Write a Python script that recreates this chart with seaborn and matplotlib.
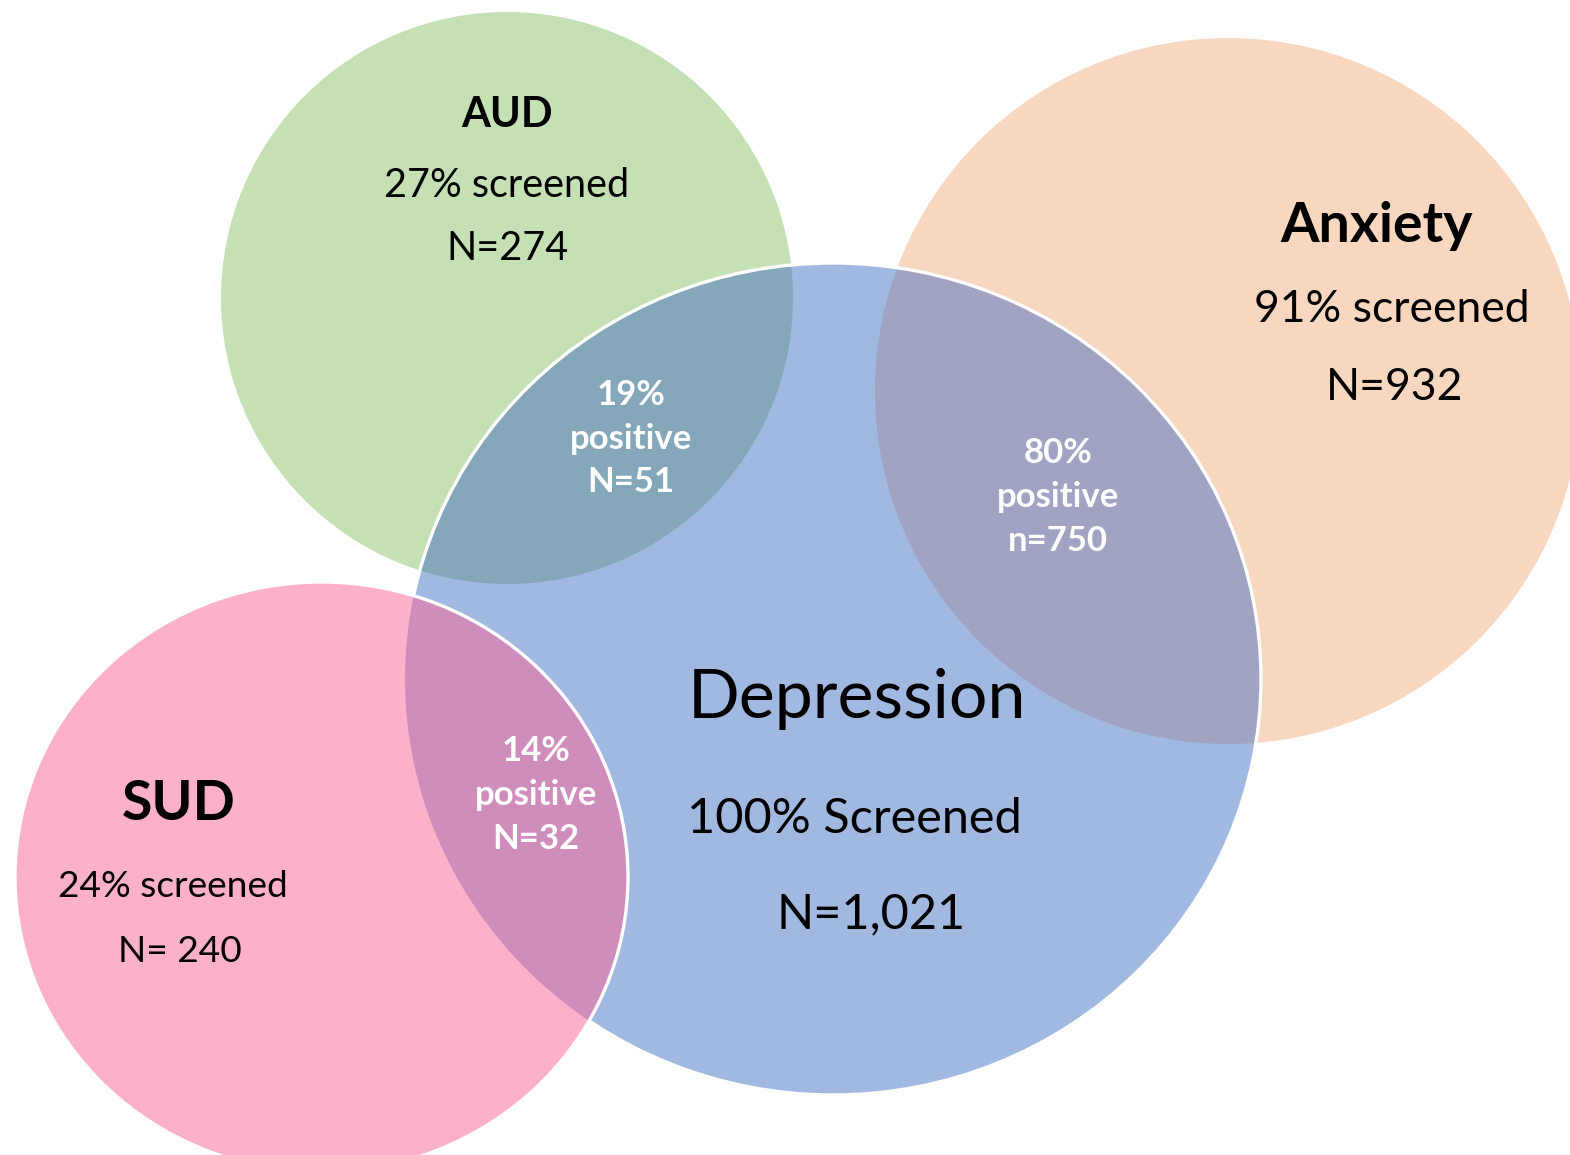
import matplotlib
matplotlib.use("Agg")
import matplotlib.pyplot as plt
from matplotlib.patches import Ellipse
import seaborn as sns

# ---- data -------------------------------------------------------------
groups = ["AUD", "Anxiety", "Depression", "SUD"]
screened_pct = [27, 91, 100, 24]
screened_n = [274, 932, 1021, 240]
screened_word = ["screened", "screened", "Screened", "screened"]
n_prefix = ["N=", "N=", "N=", "N= "]

# overlap of each condition with Depression (AUD, Anxiety, SUD)
overlap_groups = ["AUD", "Anxiety", "SUD"]
positive_pct = [19, 80, 14]
positive_n = [51, 750, 32]
positive_prefix = ["N=", "n=", "N="]

# ---- layout (pixel space, y downwards) --------------------------------
shapes = {
    "AUD":        dict(xy=(507, 298), w=572, h=572, color="#C5E0B4"),
    "Anxiety":    dict(xy=(1228, 391), w=706, h=706, color="#F8D7C1"),
    "Depression": dict(xy=(833, 679), w=856, h=832, color="#A1B8E0"),
    "SUD":        dict(xy=(321.5, 877), w=613, h=590, color="#FDB0CA"),
}
overlap_colors = {"AUD": "#84A7BA", "Anxiety": "#A0A3C2", "SUD": "#CF8DBB"}

title_style = {
    "AUD":        dict(x=507, y=[127, 197, 260], sizes=[30, 28.5, 28.5]),
    "Anxiety":    dict(x=[1377, 1392, 1395], y=[242, 322, 400], sizes=[40, 32, 32]),
    "Depression": dict(x=[857, 854, 871], y=[718, 833, 928], sizes=[49, 35, 35]),
    "SUD":        dict(x=[179, 173, 180], y=[820, 897, 962], sizes=[40, 26.7, 26.7]),
}
overlap_pos = {"AUD": (631, [405, 449, 492]),
               "Anxiety": (1058, [463, 507, 551]),
               "SUD": (536, [761, 805, 849])}

sns.set_theme(style="white")
plt.rcParams["font.family"] = ["Lato", "DejaVu Sans"]

fig = plt.figure(figsize=(15.7, 11.55), dpi=100)
ax = fig.add_axes([0, 0, 1, 1])
ax.set_xlim(0, 1570)
ax.set_ylim(1155, 0)
ax.set_aspect("equal")
ax.axis("off")


def ellipse(name, **kw):
    s = shapes[name]
    return Ellipse(s["xy"], s["w"], s["h"], **kw)


edge_w = 2.4

# base discs
for name in ["AUD", "Anxiety", "Depression"]:
    ax.add_patch(ellipse(name, facecolor=shapes[name]["color"], edgecolor="none", zorder=1))

dep_clip = ellipse("Depression", facecolor="none", edgecolor="none")
ax.add_patch(dep_clip)

# AUD / Anxiety overlaps with Depression
for name in ["AUD", "Anxiety"]:
    p = ellipse(name, facecolor=overlap_colors[name], edgecolor="none", zorder=2)
    ax.add_patch(p)
    p.set_clip_path(dep_clip)

# white outline of Depression
ax.add_patch(ellipse("Depression", facecolor="none", edgecolor="white", lw=edge_w, zorder=3))

# SUD on top
ax.add_patch(ellipse("SUD", facecolor=shapes["SUD"]["color"], edgecolor="none", zorder=4))
p = ellipse("SUD", facecolor=overlap_colors["SUD"], edgecolor="none", zorder=5)
ax.add_patch(p)
p.set_clip_path(dep_clip)
ax.add_patch(ellipse("SUD", facecolor="none", edgecolor="white", lw=edge_w, zorder=6))

# group labels
for i, name in enumerate(groups):
    st = title_style[name]
    xs = st["x"] if isinstance(st["x"], list) else [st["x"]] * 3
    lines = [name,
             f"{screened_pct[i]}% {screened_word[i]}",
             f"{n_prefix[i]}{screened_n[i]:,}"]
    weights = ["bold", "normal", "normal"]
    if name == "Depression":
        weights[0] = "normal"
    for x, y, txt, fs, fw in zip(xs, st["y"], lines, st["sizes"], weights):
        ax.text(x, y, txt, ha="center", va="baseline", fontsize=fs,
                fontweight=fw, color="black", zorder=10)

# overlap labels
for i, name in enumerate(overlap_groups):
    x, ys = overlap_pos[name]
    lines = [f"{positive_pct[i]}%", "positive", f"{positive_prefix[i]}{positive_n[i]}"]
    for y, txt in zip(ys, lines):
        ax.text(x, y, txt, ha="center", va="baseline", fontsize=25,
                fontweight="bold", color="white", zorder=10)

fig.savefig("out.png", dpi=100, facecolor="white")
